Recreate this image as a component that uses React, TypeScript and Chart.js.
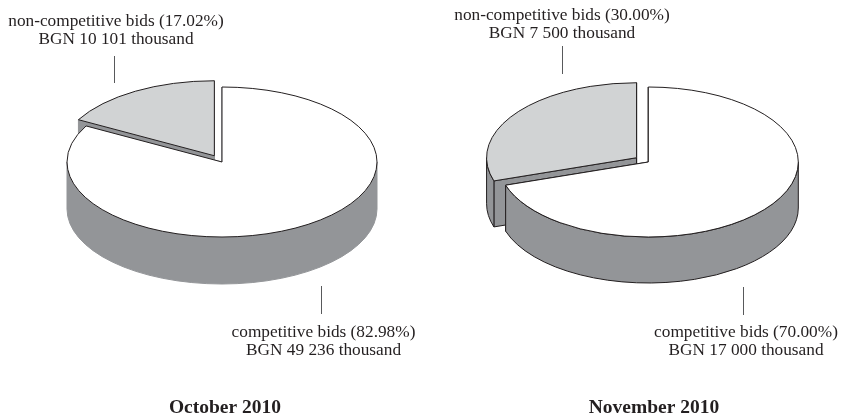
import React, { useEffect, useRef } from "react";
import { Chart, registerables } from "chart.js";

Chart.register(...registerables);

const categories = ["competitive bids", "non-competitive bids"];
const octoberShares = [82.98, 17.02];
const novemberShares = [70.0, 30.0];
const octoberAmounts = ["BGN 49 236 thousand", "BGN 10 101 thousand"];
const novemberAmounts = ["BGN 17 000 thousand", "BGN 7 500 thousand"];
const periods = ["October 2010", "November 2010"];

const TOP_GRAY = "#d1d3d4";
const WALL_GRAY = "#939598";
const INK = "#231f20";
const SERIF = '"Liberation Serif", serif';

type Layout = {
  left: number; width: number; cx: number; cy: number; r: number; ry: number; depth: number; offset: number;
  wallStroke: string;
  period: [number, number];
  labels: { x: number; y: number; lx: number; ly0: number; ly1: number }[];
};

const layouts: Layout[] = [
  {
    left: 0, width: 420, cx: 222, cy: 162, r: 155, ry: 75, depth: 47, offset: 60, wallStroke: WALL_GRAY,
    period: [225, 413],
    labels: [
      { x: 323.5, y: 337, lx: 321.5, ly0: 286, ly1: 314 },
      { x: 116, y: 25.5, lx: 114.5, ly0: 56, ly1: 83 },
    ],
  },
  {
    left: 420, width: 421, cx: 228.3, cy: 162, r: 150, ry: 75, depth: 46, offset: 58, wallStroke: INK,
    period: [234, 413],
    labels: [
      { x: 326, y: 337, lx: 323.5, ly0: 287, ly1: 315 },
      { x: 142, y: 20, lx: 142.5, ly0: 46, ly1: 74 },
    ],
  },
];

function piePlugin(layout: Layout, shares: number[], amounts: string[], period: string) {
  return {
    id: "flatPie",
    beforeDatasetsDraw(chart: any) {
      const ctx: CanvasRenderingContext2D = chart.ctx;
      const arcs = chart.getDatasetMeta(0).data as any[];
      const paint = (fill: string, stroke: string) => {
        ctx.fillStyle = fill;
        ctx.fill();
        ctx.lineWidth = 1;
        ctx.strokeStyle = stroke;
        ctx.lineJoin = "miter";
        ctx.stroke();
      };
      // later slices lie behind the first one
      for (let i = arcs.length - 1; i >= 0; i--) {
        const arc = arcs[i];
        const a0: number = arc.startAngle;
        const a1: number = arc.endAngle;
        const mid = (a0 + a1) / 2;
        const shift = (arc.options.offset || 0) / 4;
        const x = arc.x + Math.cos(mid) * shift;
        const y = arc.y + Math.sin(mid) * shift * (layout.ry / layout.r);
        const r: number = arc.outerRadius;
        const ry = r * (layout.ry / layout.r);
        const d = layout.depth;
        for (const a of [a0, a1]) {
          const px = x + Math.cos(a) * r;
          const py = y + Math.sin(a) * ry;
          ctx.beginPath();
          ctx.moveTo(x, y);
          ctx.lineTo(px, py);
          ctx.lineTo(px, py + d);
          ctx.lineTo(x, y + d);
          ctx.closePath();
          paint(WALL_GRAY, layout.wallStroke);
        }
        for (let n = -1; n <= 1; n++) {
          const lo = Math.max(a0, 2 * Math.PI * n);
          const hi = Math.min(a1, Math.PI + 2 * Math.PI * n);
          if (hi <= lo) continue;
          ctx.beginPath();
          ctx.ellipse(x, y, r, ry, 0, lo, hi);
          ctx.ellipse(x, y + d, r, ry, 0, hi, lo, true);
          ctx.closePath();
          paint(WALL_GRAY, layout.wallStroke);
        }
        ctx.beginPath();
        ctx.moveTo(x, y);
        ctx.ellipse(x, y, r, ry, 0, a0, a1);
        ctx.closePath();
        paint(arc.options.backgroundColor, INK);
      }
      return false;
    },
    afterDraw(chart: any) {
      const ctx: CanvasRenderingContext2D = chart.ctx;
      ctx.save();
      ctx.textAlign = "center";
      ctx.textBaseline = "alphabetic";
      ctx.fillStyle = INK;
      ctx.font = `17.3px ${SERIF}`;
      layout.labels.forEach((l, i) => {
        ctx.fillText(`${categories[i]} (${shares[i].toFixed(2)}%)`, l.x, l.y);
        ctx.fillText(amounts[i], l.x, l.y + 18);
        ctx.beginPath();
        ctx.moveTo(l.lx, l.ly0);
        ctx.lineTo(l.lx, l.ly1);
        ctx.lineWidth = 1;
        ctx.strokeStyle = "#58595b";
        ctx.stroke();
      });
      ctx.font = `bold 19.5px ${SERIF}`;
      ctx.fillText(period, layout.period[0], layout.period[1]);
      ctx.restore();
    },
  };
}

function Pie({ layout, shares, amounts, period }: { layout: Layout; shares: number[]; amounts: string[]; period: string }) {
  const ref = useRef<HTMLCanvasElement>(null);
  useEffect(() => {
    const chart = new Chart(ref.current!, {
      type: "pie",
      data: {
        labels: categories,
        datasets: [
          {
            data: shares,
            backgroundColor: ["#ffffff", TOP_GRAY],
            offset: [0, layout.offset],
          } as any,
        ],
      },
      options: {
        animation: false,
        responsive: false,
        radius: layout.r,
        layout: {
          padding: {
            left: layout.cx - layout.r,
            right: layout.width - layout.cx - layout.r,
            top: layout.cy - layout.r,
            bottom: 416 - layout.cy - layout.r,
          },
        },
        plugins: { legend: { display: false }, tooltip: { enabled: false }, title: { display: false } },
      } as any,
      plugins: [piePlugin(layout, shares, amounts, period)],
    });
    return () => chart.destroy();
  }, []);
  return (
    <canvas
      ref={ref}
      width={layout.width}
      height={416}
      style={{ position: "absolute", left: layout.left, top: 0, width: layout.width, height: 416 }}
    />
  );
}

export default function App() {
  return (
    <div style={{ position: "fixed", left: 0, top: 0, width: 841, height: 416, background: "#fff", overflow: "hidden" }}>
      <Pie layout={layouts[0]} shares={octoberShares} amounts={octoberAmounts} period={periods[0]} />
      <Pie layout={layouts[1]} shares={novemberShares} amounts={novemberAmounts} period={periods[1]} />
    </div>
  );
}
